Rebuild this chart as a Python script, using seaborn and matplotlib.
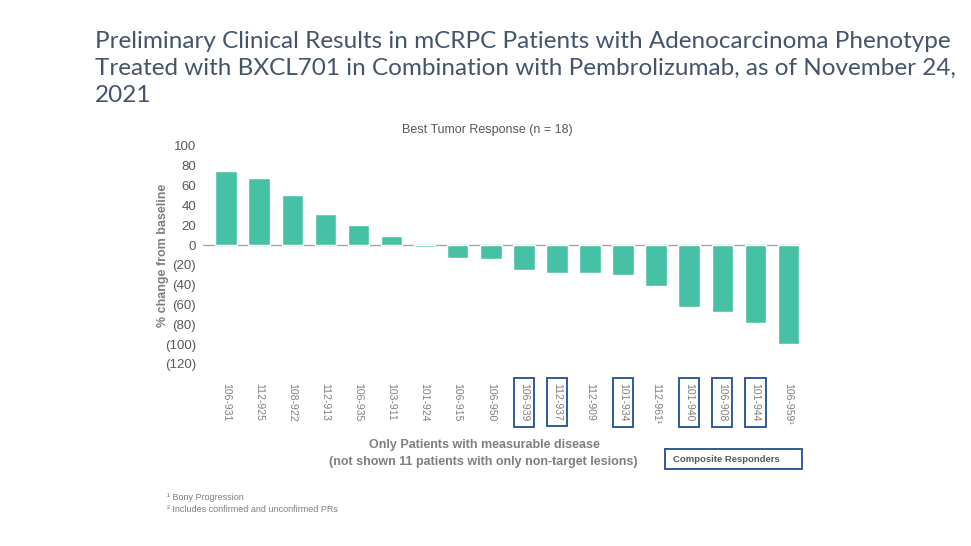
import matplotlib
matplotlib.use("Agg")
import matplotlib.pyplot as plt
import pandas as pd
import seaborn as sns
from matplotlib.patches import Rectangle

# data
patients = ["106-931", "112-925", "108-922", "112-913", "106-935", "103-911",
            "101-924", "106-915", "106-950", "106-939", "112-937", "112-909",
            "101-934", "112-961", "101-940", "106-908", "101-944", "106-959"]
pct_change = [75, 68, 51, 31, 20, 9, -2, -13, -14, -25, -28, -28, -30, -41,
              -63, -68, -79, -100]
footnoted = ["112-961", "106-959"]
responders = ["106-939", "112-937", "101-934", "101-940", "106-908", "101-944"]
y_ticks = list(range(-120, 101, 20))

BAR = "#47c1a6"
GRAY = "#7f7f7f"
BOX = "#2e5c99"
TITLE = "#44546a"

sns.set_theme(style="white")
plt.rcParams["font.family"] = ["Liberation Sans", "DejaVu Sans"]

df = pd.DataFrame({"patient": patients, "change": pct_change})

fig = plt.figure(figsize=(9.71, 5.46), dpi=100)
ax = fig.add_axes([203 / 971, 1 - 373.7 / 546, (800 - 203) / 971, (373.7 - 136.1) / 546])

sns.barplot(data=df, x="patient", y="change", order=patients, color=BAR,
            width=0.65, saturation=1, ax=ax)
ax.axhline(0, color="#a6a6a6", lw=1, zorder=0)
ax.set_xlim(-0.7, 17.35)
ax.set_ylim(-130, 110)
sns.despine(ax=ax, left=True, bottom=True)
ax.tick_params(length=0)

ax.set_yticks(y_ticks)
ax.set_yticklabels([f"({abs(v)})" if v < 0 else f"{v}" for v in y_ticks],
                   fontsize=9.5, color="#595959")
ax.tick_params(axis="y", pad=5)

labels = [p + ("\u00b9" if p in footnoted else "") for p in patients]
ax.set_xticks(range(len(patients)))
ax.set_xticklabels(labels, rotation=-90, fontsize=7.5, color=GRAY, va="top")
ax.tick_params(axis="x", pad=7)
for tl, p in zip(ax.get_xticklabels(), patients):
    if p in responders:
        tl.set_bbox(dict(boxstyle="square,pad=0.5", fc="none", ec=BOX, lw=1.4))

ax.set_xlabel("")
ax.set_ylabel("% change from baseline", fontsize=9, fontweight="bold", color=GRAY)
ax.yaxis.set_label_coords(-0.057, 0.5)

fig.text(487 / 971, 1 - 130 / 546, "Best Tumor Response (n = 18)", ha="center",
         va="center", fontsize=9, color="#595959")

title_lines = [
    "Preliminary Clinical Results in mCRPC Patients with Adenocarcinoma Phenotype",
    "Treated with BXCL701 in Combination with Pembrolizumab, as of November 24,",
    "2021",
]
for y, line in zip([42, 68, 95], title_lines):
    fig.text(95 / 971, 1 - y / 546, line, fontsize=17.5, color=TITLE,
             family=["Lato", "DejaVu Sans"], va="center")

fig.text(484 / 971, 1 - 445 / 546, "Only Patients with measurable disease",
         ha="center", va="center", fontsize=9, fontweight="bold", color=GRAY)
fig.text(483 / 971, 1 - 462 / 546, "(not shown 11 patients with only non-target lesions)",
         ha="center", va="center", fontsize=9, fontweight="bold", color=GRAY)

fig.patches.append(Rectangle((665 / 971, 1 - 469 / 546), 137 / 971, 20 / 546,
                             transform=fig.transFigure, fill=False, ec=BOX, lw=1.4))
fig.text(673 / 971, 1 - 460 / 546, "Composite Responders", va="center",
         fontsize=6.8, fontweight="bold", color="#595959")

fig.text(167 / 971, 1 - 497 / 546, "\u00b9 Bony Progression", va="center",
         fontsize=6.5, color=GRAY)
fig.text(167 / 971, 1 - 509 / 546, "\u00b2 Includes confirmed and unconfirmed PRs",
         va="center", fontsize=6.5, color=GRAY)

fig.savefig("out.png", dpi=100, facecolor="white")
